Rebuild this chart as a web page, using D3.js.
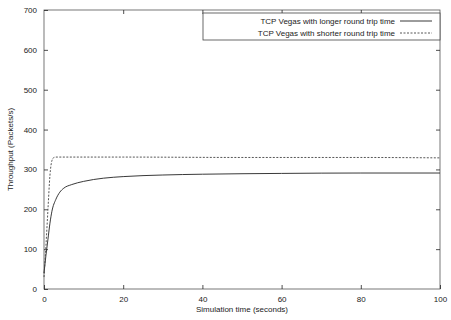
<!DOCTYPE html>
<html>
<head>
<meta charset="utf-8">
<script src="https://cdn.jsdelivr.net/npm/d3@7"></script>
<style>
  body { margin: 0; background: #fff; }
  text { font-family: "Liberation Sans", Arial, sans-serif; fill: #222; }
</style>
</head>
<body>
<div id="chart"></div>
<script>
const width = 451
const height = 320
const strokeColor = '#222'

// simulation time (seconds)
const timeLonger = [0, 0.5, 1, 1.5, 2, 3, 4, 5, 7, 10, 15, 20, 30, 40, 60, 80, 100]
const throughputLonger = [40, 85, 125, 165, 195, 225, 243, 253, 262, 270, 278, 282, 286, 288, 290, 291, 291]
const timeShorter = [0, 0.5, 1, 1.5, 2, 2.5, 3, 20, 50, 80, 100]
const throughputShorter = [30, 110, 200, 285, 322, 330, 331, 331, 330, 330, 329]

const xTicks = [0, 20, 40, 60, 80, 100]
const yTicks = [0, 100, 200, 300, 400, 500, 600, 700]
const seriesNames = ['TCP Vegas with longer round trip time', 'TCP Vegas with shorter round trip time']

var margin = { left: 44, right: 11, top: 10, bottom: 31 }

var x = d3.scaleLinear().domain([0, 100]).range([margin.left, width - margin.right])
var y = d3.scaleLinear().domain([0, 700]).range([height - margin.bottom, margin.top])

var svg = d3.select('#chart').append('svg').attr('width', width).attr('height', height)

// frame
svg.append('rect')
  .attr('x', x(0)).attr('y', y(700))
  .attr('width', x(100) - x(0)).attr('height', y(0) - y(700))
  .attr('fill', 'none').attr('stroke', '#555').attr('stroke-width', 0.8)

// gnuplot style inward ticks
var xAxis = d3.axisBottom(x).tickValues(xTicks).tickSizeInner(-4).tickSizeOuter(0).tickPadding(7)
var yAxis = d3.axisLeft(y).tickValues(yTicks).tickSizeInner(-4).tickSizeOuter(0).tickPadding(7)

var gx = svg.append('g').attr('transform', `translate(0,${y(0)})`).call(xAxis)
var gy = svg.append('g').attr('transform', `translate(${x(0)},0)`).call(yAxis)
;[gx, gy].forEach(g => {
  g.select('.domain').remove()
  g.selectAll('line').attr('stroke', strokeColor).attr('stroke-width', 0.8)
  g.selectAll('text').attr('font-size', 8).attr('fill', '#222')
})

// mirrored ticks on top and right
svg.append('g').attr('transform', `translate(0,${y(700)})`)
  .call(d3.axisTop(x).tickValues(xTicks.slice(1, -1)).tickSizeInner(-4).tickSizeOuter(0).tickFormat(''))
  .call(g => g.select('.domain').remove())
  .selectAll('line').attr('stroke', strokeColor).attr('stroke-width', 0.8)
svg.append('g').attr('transform', `translate(${x(100)},0)`)
  .call(d3.axisRight(y).tickValues(yTicks.slice(1, -1)).tickSizeInner(-4).tickSizeOuter(0).tickFormat(''))
  .call(g => g.select('.domain').remove())
  .selectAll('line').attr('stroke', strokeColor).attr('stroke-width', 0.8)

// axis titles
svg.append('text')
  .attr('x', (x(0) + x(100)) / 2).attr('y', height - 8)
  .attr('text-anchor', 'middle').attr('font-size', 8)
  .text('Simulation time (seconds)')
svg.append('text')
  .attr('transform', `translate(13,${(y(0) + y(700)) / 2}) rotate(-90)`)
  .attr('text-anchor', 'middle').attr('font-size', 8)
  .text('Throughput (Packets/s)')

var line = d3.line().curve(d3.curveMonotoneX)
  .x(d => x(d[0]))
  .y(d => y(d[1]))

svg.append('path')
  .attr('d', line(d3.zip(timeLonger, throughputLonger)))
  .attr('fill', 'none').attr('stroke', strokeColor).attr('stroke-width', 0.9)

svg.append('path')
  .attr('d', line(d3.zip(timeShorter, throughputShorter)))
  .attr('fill', 'none').attr('stroke', '#444').attr('stroke-width', 0.9)
  .attr('stroke-dasharray', '2,1.5')

// legend
var legend = svg.append('g')
legend.append('rect')
  .attr('x', 203).attr('y', 13).attr('width', 237).attr('height', 27)
  .attr('fill', '#fff').attr('stroke', '#444').attr('stroke-width', 0.8)

seriesNames.forEach(function (name, i) {
  var ly = 21 + i * 12
  legend.append('text')
    .attr('x', 395).attr('y', ly + 3)
    .attr('text-anchor', 'end').attr('font-size', 8)
    .text(name)
  legend.append('line')
    .attr('x1', 400).attr('x2', 432).attr('y1', ly).attr('y2', ly)
    .attr('stroke', i === 1 ? '#444' : strokeColor).attr('stroke-width', 0.9)
    .attr('stroke-dasharray', i === 1 ? '2,1.5' : null)
})
</script>
</body>
</html>
